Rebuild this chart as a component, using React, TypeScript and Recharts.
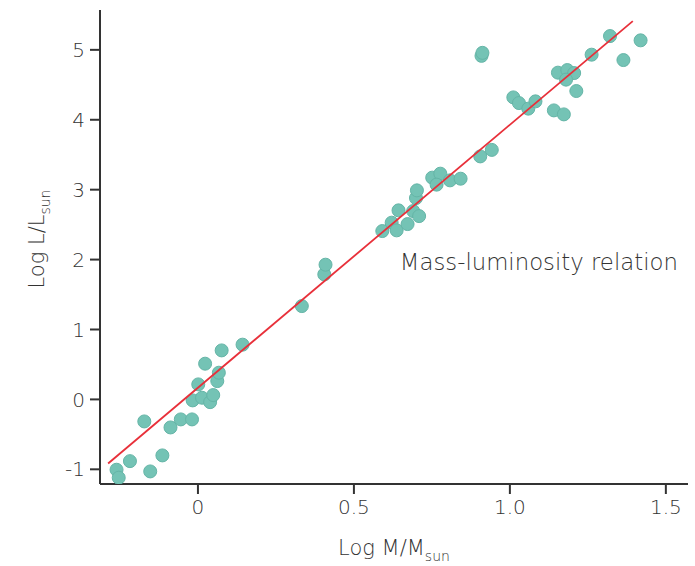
import { ScatterChart, Scatter, XAxis, YAxis, ReferenceDot, Label } from 'recharts';

// log mass vs log luminosity
const logMass = [
  -0.261, -0.254, -0.218, -0.153, -0.114, -0.172, -0.088, -0.055, -0.019, -0.017,
  0.013, 0.039, 0.049, 0.001, 0.062, 0.067, 0.023, 0.076, 0.143, 0.333,
  0.405, 0.409, 0.591, 0.621, 0.637, 0.672, 0.643, 0.69, 0.709, 0.699,
  0.702, 0.751, 0.777, 0.765, 0.808, 0.842, 0.905, 0.942, 0.909, 0.912,
  1.011, 1.029, 1.059, 1.082, 1.141, 1.173, 1.154, 1.184, 1.206, 1.18,
  1.213, 1.262, 1.321, 1.364, 1.419,
];
const logLum = [
  -1.006, -1.12, -0.883, -1.03, -0.801, -0.315, -0.401, -0.286, -0.286, -0.014,
  0.024, -0.039, 0.062, 0.215, 0.262, 0.382, 0.511, 0.701, 0.783, 1.335,
  1.788, 1.927, 2.408, 2.528, 2.418, 2.508, 2.704, 2.694, 2.622, 2.88,
  2.99, 3.172, 3.229, 3.072, 3.133, 3.157, 3.476, 3.569, 4.914, 4.957,
  4.32, 4.239, 4.159, 4.263, 4.134, 4.077, 4.674, 4.711, 4.668, 4.574,
  4.411, 4.931, 5.197, 4.854, 5.136,
];

// fitted line end points
const fitX = [-0.288, 1.394];
const fitY = [-0.916, 5.41];

const xTicks = [0, 0.5, 1.0, 1.5];
const yTicks = [-1, 0, 1, 2, 3, 4, 5];

const FONT = "'DejaVu Sans', sans-serif";
const INK = '#333333';

const stars = logMass.map((m, i) => ({ x: m, y: logLum[i] }));
const fit = fitX.map((x, i) => ({ x, y: fitY[i] }));

function AxisLabel({ x, y, main, sub, rotate }: { x: number; y: number; main: string; sub: string; rotate?: boolean }) {
  return (
    <text
      x={x}
      y={y}
      textAnchor="middle"
      fontFamily={FONT}
      fontWeight={200}
      fontSize={21}
      fill={INK}
      transform={rotate ? `rotate(-90, ${x}, ${y})` : undefined}
    >
      {main}
      <tspan fontSize={14} dy={6}>{sub}</tspan>
    </text>
  );
}

export default function App() {
  return (
    <div style={{ position: 'absolute', left: 0, top: 0, width: 695, height: 566, background: '#fff' }}>
      <ScatterChart width={695} height={566} margin={{ top: 10, right: 7, bottom: 0, left: 0 }}>
        <XAxis
          type="number"
          dataKey="x"
          domain={[-0.314, 1.571]}
          ticks={xTicks}
          tickFormatter={(v: number) => (v === 0 ? '0' : v.toFixed(1))}
          height={82}
          tickSize={10}
          tickMargin={6}
          stroke={INK}
          strokeWidth={2}
          tick={{ fontFamily: FONT, fontWeight: 200, fontSize: 20, fill: INK }}
          allowDataOverflow
        >
          <Label
            content={(p: any) => {
              const vb = p.viewBox;
              return <AxisLabel x={vb.x + vb.width / 2} y={555} main="Log M/M" sub="sun" />;
            }}
          />
        </XAxis>
        <YAxis
          type="number"
          dataKey="y"
          domain={[-1.21, 5.57]}
          ticks={yTicks}
          width={100}
          tickSize={10}
          tickMargin={5}
          stroke={INK}
          strokeWidth={2}
          tick={{ fontFamily: FONT, fontWeight: 200, fontSize: 20, fill: INK }}
          allowDataOverflow
        >
          <Label
            content={(p: any) => {
              const vb = p.viewBox;
              return <AxisLabel x={44} y={vb.y + vb.height / 2 - 8} main="Log L/L" sub="sun" rotate />;
            }}
          />
        </YAxis>
        <Scatter
          data={stars}
          fill="#74c3b5"
          shape={(p: any) => <circle cx={p.cx} cy={p.cy} r={6.5} fill="#74c3b5" stroke="#65b5a7" strokeWidth={1} />}
          isAnimationActive={false}
        />
        <Scatter
          data={fit}
          line={{ stroke: '#e8303a', strokeWidth: 1.8 }}
          shape={() => <g />}
          isAnimationActive={false}
        />
        <ReferenceDot x={0.647} y={1.97} r={0} fill="none" stroke="none">
          <Label
            content={(p: any) => (
              <text
                x={p.viewBox.x}
                y={p.viewBox.y}
                dominantBaseline="central"
                fontFamily={FONT}
                fontWeight={200}
                fontSize={22.8}
                fill={INK}
              >
                Mass-luminosity relation
              </text>
            )}
          />
        </ReferenceDot>
      </ScatterChart>
    </div>
  );
}
